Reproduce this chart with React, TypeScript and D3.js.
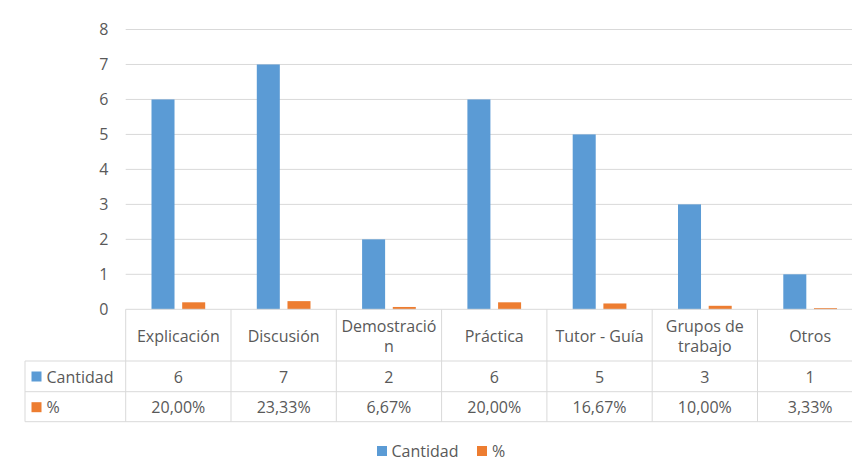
import React from "react";
import * as d3 from "d3";

const categories = ["Explicación", "Discusión", "Demostración", "Práctica", "Tutor - Guía", "Grupos de trabajo", "Otros"];
const categoryLines = [["Explicación"], ["Discusión"], ["Demostració", "n"], ["Práctica"], ["Tutor - Guía"], ["Grupos de", "trabajo"], ["Otros"]];
const cantidad = [6, 7, 2, 6, 5, 3, 1];
const porcentaje = [0.2, 0.2333, 0.0667, 0.2, 0.1667, 0.1, 0.0333];
const porcentajeLabels = ["20,00%", "23,33%", "6,67%", "20,00%", "16,67%", "10,00%", "3,33%"];
const seriesNames = ["Cantidad", "%"];
const yTicks = [0, 1, 2, 3, 4, 5, 6, 7, 8];

const W = 852;
const H = 466;
const colors = ["#5b9bd5", "#ed7d31"];
const textColor = "#595959";
const gridColor = "#d9d9d9";
const font = "'Open Sans', sans-serif";
const fs = 16;

export default function App() {
  const left = 125.7;
  const right = left + 7 * 105.3;
  const top = 29.5;
  const bottom = 309.3;
  const tableLeft = 25;
  const rowH = [309.3, 361, 391.7, 421.7];

  const x0 = d3.scaleBand<string>().domain(categories).range([left, right]).paddingInner(0.49).paddingOuter(0.245);
  const x1 = d3.scaleBand<string>().domain(seriesNames).range([0, x0.bandwidth()]).paddingInner(0.25);
  const y = d3.scaleLinear().domain([0, 8]).range([bottom, top]);
  const colX = (i: number) => left + i * 105.3;
  const colW = 105.3;

  const values = [cantidad, porcentaje];

  return (
    <svg width={W} height={H} style={{ position: "absolute", left: 0, top: 0, background: "#fff" }} fontFamily={font}>
      {yTicks.map((t) => (
        <g key={t}>
          {t > 0 && <line x1={left} x2={W} y1={y(t)} y2={y(t)} stroke={gridColor} strokeWidth={1} />}
          <text x={108.5} y={y(t)} dy="0.36em" textAnchor="end" fontSize={fs} fill={textColor}>{t}</text>
        </g>
      ))}
      {categories.map((c, i) =>
        seriesNames.map((s, si) => (
          <rect key={c + s} x={(x0(c) as number) + (x1(s) as number)} width={x1.bandwidth()} y={y(values[si][i])} height={bottom - y(values[si][i])} fill={colors[si]} />
        ))
      )}
      {/* table lines */}
      <line x1={left} x2={W} y1={rowH[0]} y2={rowH[0]} stroke={gridColor} />
      {[1, 2, 3].map((r) => (
        <line key={r} x1={tableLeft} x2={W} y1={rowH[r]} y2={rowH[r]} stroke={gridColor} />
      ))}
      <line x1={tableLeft} x2={tableLeft} y1={rowH[1]} y2={rowH[3]} stroke={gridColor} />
      {categories.map((c, i) => (
        <line key={c} x1={colX(i)} x2={colX(i)} y1={rowH[0]} y2={rowH[3]} stroke={gridColor} />
      ))}
      <line x1={colX(7)} x2={colX(7)} y1={rowH[0]} y2={rowH[3]} stroke={gridColor} />
      {/* headers */}
      {categoryLines.map((lines, i) =>
        lines.map((ln, li) => (
          <text key={i + "-" + li} x={colX(i) + colW / 2} y={lines.length === 1 ? 342 : 332 + li * 20} textAnchor="middle" fontSize={fs} fill={textColor}>{ln}</text>
        ))
      )}
      {/* rows */}
      {seriesNames.map((s, si) => (
        <g key={s}>
          <rect x={31.5} y={rowH[si + 1] + 10.5} width={10} height={10} fill={colors[si]} />
          <text x={46.5} y={rowH[si + 1] + 21.5} fontSize={fs} fill={textColor}>{s}</text>
        </g>
      ))}
      {categories.map((c, i) => (
        <g key={c}>
          <text x={colX(i) + colW / 2} y={rowH[1] + 21.5} textAnchor="middle" fontSize={fs} fill={textColor}>{cantidad[i]}</text>
          <text x={colX(i) + colW / 2} y={rowH[2] + 21.5} textAnchor="middle" fontSize={fs} fill={textColor}>{porcentajeLabels[i]}</text>
        </g>
      ))}
      {/* legend */}
      <rect x={377} y={446} width={10} height={10} fill={colors[0]} />
      <text x={391.5} y={456.5} fontSize={fs} fill={textColor}>{seriesNames[0]}</text>
      <rect x={477} y={446} width={10} height={10} fill={colors[1]} />
      <text x={492} y={456.5} fontSize={fs} fill={textColor}>{seriesNames[1]}</text>
    </svg>
  );
}
